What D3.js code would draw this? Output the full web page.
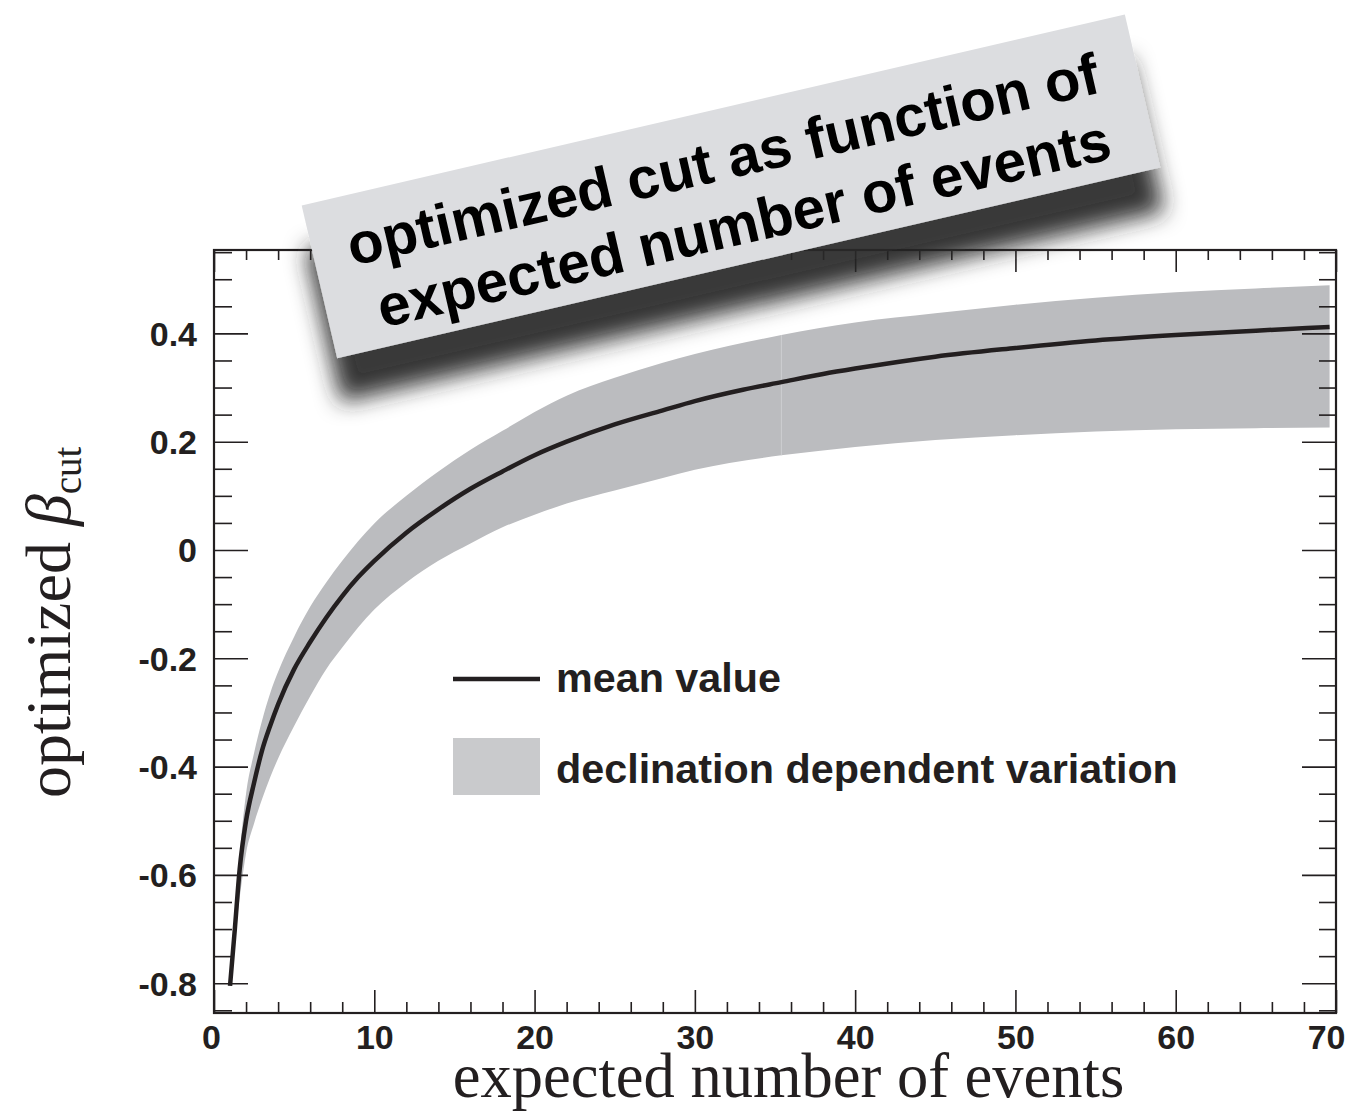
<!DOCTYPE html>
<html>
<head>
<meta charset="utf-8">
<script src="https://cdn.jsdelivr.net/npm/d3@7"></script>
<style>
  html, body { margin: 0; padding: 0; background: #ffffff; }
  svg { display: block; }
</style>
</head>
<body>
<svg id="chart" width="1345" height="1113"></svg>
<script>
// Mean optimized cut value vs. expected number of events
const meanX = [1.0, 1.3, 1.6, 2.0, 2.5, 3.0, 3.5, 4, 5, 6, 7, 8, 9, 10, 12, 14, 16, 18, 20, 22, 25, 28, 30, 33, 35.4, 38, 40, 45, 50, 55, 60, 65, 69.6];
const meanY = [-0.805, -0.70, -0.59, -0.50, -0.43, -0.37, -0.325, -0.285, -0.22, -0.17, -0.125, -0.085, -0.05, -0.02, 0.032, 0.075, 0.113, 0.145, 0.175, 0.200, 0.232, 0.258, 0.275, 0.296, 0.310, 0.325, 0.335, 0.357, 0.373, 0.387, 0.397, 0.405, 0.412];

// Declination dependent variation band
const bandX     = [1.4, 1.7, 2.0, 2.5, 3.0, 3.5, 4, 5, 6, 7, 8, 10, 12, 14, 16, 18, 20, 22, 25, 28, 30, 35.4, 40, 45, 50, 55, 60, 65, 69.6];
const bandUpper = [-0.64, -0.53, -0.45, -0.375, -0.315, -0.265, -0.225, -0.16, -0.105, -0.06, -0.02, 0.049, 0.10, 0.145, 0.185, 0.22, 0.255, 0.285, 0.318, 0.346, 0.362, 0.397, 0.42, 0.437, 0.453, 0.466, 0.476, 0.483, 0.489];
const bandLower = [-0.69, -0.62, -0.56, -0.505, -0.46, -0.42, -0.385, -0.325, -0.27, -0.22, -0.18, -0.11, -0.06, -0.02, 0.012, 0.042, 0.065, 0.086, 0.11, 0.133, 0.148, 0.175, 0.19, 0.203, 0.212, 0.219, 0.223, 0.225, 0.226];
const bandSeamX = 35.4;

// Axis ticks
const xMajorTicks = [0, 10, 20, 30, 40, 50, 60, 70];
const xMinorTicks = d3.range(0, 71, 2).filter(v => v % 10 !== 0);
const yMajorTicks = [-0.8, -0.6, -0.4, -0.2, 0, 0.2, 0.4];
const yMinorTicks = d3.range(-0.85, 0.551, 0.05).map(v => +v.toFixed(2)).filter(v => Math.abs((v * 5) - Math.round(v * 5)) > 1e-6);

const legendLabels = ["mean value", "declination dependent variation"];
const titleLines = ["optimized cut as function of", "expected number of events"];

const ink = "#231f20";
const bandColor = "#bbbcbf";

const svg = d3.select("#chart");
const plotLeft = 214, plotRight = 1336, plotTop = 250, plotBottom = 1013;

const x = d3.scaleLinear().domain([0, 70]).range([plotLeft, plotRight]);
const y = d3.scaleLinear().domain([-0.855, 0.554]).range([plotBottom, plotTop]);

// ---- defs: drop shadow for the title card
const defs = svg.append("defs");
const f = defs.append("filter").attr("id", "cardShadow")
  .attr("x", "-20%").attr("y", "-40%").attr("width", "140%").attr("height", "200%");
f.append("feGaussianBlur").attr("in", "SourceAlpha").attr("stdDeviation", 11).attr("result", "blur");
f.append("feOffset").attr("in", "blur").attr("dx", 4).attr("dy", 44).attr("result", "off");
f.append("feFlood").attr("flood-color", "#262626").attr("flood-opacity", 0.92);
f.append("feComposite").attr("in2", "off").attr("operator", "in").attr("result", "shadow");
const fm = f.append("feMerge");
fm.append("feMergeNode").attr("in", "shadow");
fm.append("feMergeNode").attr("in", "SourceGraphic");

// ---- band (two pieces joined at the seam)
const bandData = bandX.map((v, i) => ({ x: v, lo: bandLower[i], hi: bandUpper[i] }));
const area = d3.area().x(d => x(d.x)).y0(d => y(d.lo)).y1(d => y(d.hi)).curve(d3.curveMonotoneX);
svg.append("path").datum(bandData.filter(d => d.x <= bandSeamX))
  .attr("d", area).attr("fill", bandColor);
svg.append("path").datum(bandData.filter(d => d.x >= bandSeamX))
  .attr("d", area).attr("fill", bandColor);
const seam = bandData.find(d => d.x === bandSeamX);
svg.append("line")
  .attr("x1", x(seam.x)).attr("x2", x(seam.x))
  .attr("y1", y(seam.lo)).attr("y2", y(seam.hi))
  .attr("stroke", "#cbcccf").attr("stroke-width", 1);

// ---- mean line
const meanData = meanX.map((v, i) => ({ x: v, y: meanY[i] }));
svg.append("path").datum(meanData)
  .attr("d", d3.line().x(d => x(d.x)).y(d => y(d.y)).curve(d3.curveMonotoneX))
  .attr("fill", "none").attr("stroke", ink).attr("stroke-width", 4.5)
  .attr("stroke-linejoin", "round");

// ---- axes (ticks pointing inward on all four sides)
function styleAxis(g) {
  g.select(".domain").remove();
  g.selectAll(".tick line").attr("stroke", ink).attr("stroke-width", 1.6);
  g.selectAll(".tick text").attr("fill", ink)
    .style("font-family", "'Liberation Sans', Arial, sans-serif")
    .style("font-weight", "bold").style("font-size", "34px");
}
const fmt = d => String(d);

svg.append("g").attr("transform", `translate(0,${plotBottom})`)
  .call(d3.axisBottom(x).tickValues(xMajorTicks).tickSize(-23).tickPadding(0).tickFormat(fmt))
  .call(styleAxis)
  .call(g => g.selectAll(".tick text").attr("y", 36).attr("dy", 0)
    .attr("text-anchor", (d, i, n) => i === n.length - 1 ? "end" : "middle")
    .attr("x", (d, i, n) => i === n.length - 1 ? 9 : (i === 0 ? -3 : 0)));
svg.append("g").attr("transform", `translate(0,${plotBottom})`)
  .call(d3.axisBottom(x).tickValues(xMinorTicks).tickSize(-11).tickFormat(""))
  .call(styleAxis);
svg.append("g").attr("transform", `translate(0,${plotTop})`)
  .call(d3.axisTop(x).tickValues(xMajorTicks).tickSize(-22).tickFormat(""))
  .call(styleAxis);
svg.append("g").attr("transform", `translate(0,${plotTop})`)
  .call(d3.axisTop(x).tickValues(xMinorTicks).tickSize(-10).tickFormat(""))
  .call(styleAxis);

svg.append("g").attr("transform", `translate(${plotLeft},0)`)
  .call(d3.axisLeft(y).tickValues(yMajorTicks).tickSize(-34).tickPadding(0).tickFormat(fmt))
  .call(styleAxis)
  .call(g => g.selectAll(".tick text").attr("x", -17).attr("dy", "0.35em").attr("text-anchor", "end"));
svg.append("g").attr("transform", `translate(${plotLeft},0)`)
  .call(d3.axisLeft(y).tickValues(yMinorTicks).tickSize(-18).tickFormat(""))
  .call(styleAxis);
svg.append("g").attr("transform", `translate(${plotRight},0)`)
  .call(d3.axisRight(y).tickValues(yMajorTicks).tickSize(-34).tickFormat(""))
  .call(styleAxis);
svg.append("g").attr("transform", `translate(${plotRight},0)`)
  .call(d3.axisRight(y).tickValues(yMinorTicks).tickSize(-17).tickFormat(""))
  .call(styleAxis);

// frame
svg.append("rect").attr("x", plotLeft).attr("y", plotTop)
  .attr("width", plotRight - plotLeft).attr("height", plotBottom - plotTop)
  .attr("fill", "none").attr("stroke", ink).attr("stroke-width", 2.2);

// ---- axis titles
svg.append("text")
  .attr("x", 788.5).attr("y", 1097).attr("text-anchor", "middle")
  .style("font-family", "'Liberation Serif', 'Times New Roman', serif")
  .style("font-size", "62.5px").attr("fill", ink)
  .text("expected number of events");

const yt = svg.append("text")
  .attr("transform", "translate(70,798) rotate(-90)")
  .style("font-family", "'Liberation Serif', 'Times New Roman', serif")
  .style("font-size", "64px").attr("fill", ink);
yt.append("tspan").text("optimized ");
yt.append("tspan").style("font-style", "italic").text("β");
yt.append("tspan").attr("dy", 11).style("font-size", "39px").text("cut");

// ---- legend
svg.append("line").attr("x1", 453).attr("x2", 540).attr("y1", 679).attr("y2", 679)
  .attr("stroke", ink).attr("stroke-width", 4.5);
svg.append("rect").attr("x", 453).attr("y", 738).attr("width", 87).attr("height", 57)
  .attr("fill", "#c9cacc");
svg.selectAll("text.legend").data(legendLabels).join("text")
  .attr("class", "legend")
  .attr("x", 556).attr("y", (d, i) => [692, 783][i])
  .style("font-family", "'Liberation Sans', Arial, sans-serif")
  .style("font-weight", "bold").style("font-size", "41.3px").attr("fill", ink)
  .text(d => d);

// ---- tilted title card
const card = svg.append("g").attr("filter", "url(#cardShadow)");
card.append("g").attr("transform", "translate(731,186.4) rotate(-13.06)")
  .append("rect").attr("x", -422.5).attr("y", -78.5).attr("width", 845).attr("height", 157)
  .attr("fill", "#dcdde0");
const cardText = svg.append("g").attr("transform", "translate(731,186.4) rotate(-13.06)");
cardText.selectAll("text").data(titleLines).join("text")
  .attr("x", (d, i) => [-2, 4][i]).attr("y", (d, i) => [-8, 59][i]).attr("text-anchor", "middle")
  .style("font-family", "'Liberation Sans', Arial, sans-serif")
  .style("font-weight", "bold").style("font-size", "58px").attr("fill", "#000")
  .text(d => d);
</script>
</body>
</html>
